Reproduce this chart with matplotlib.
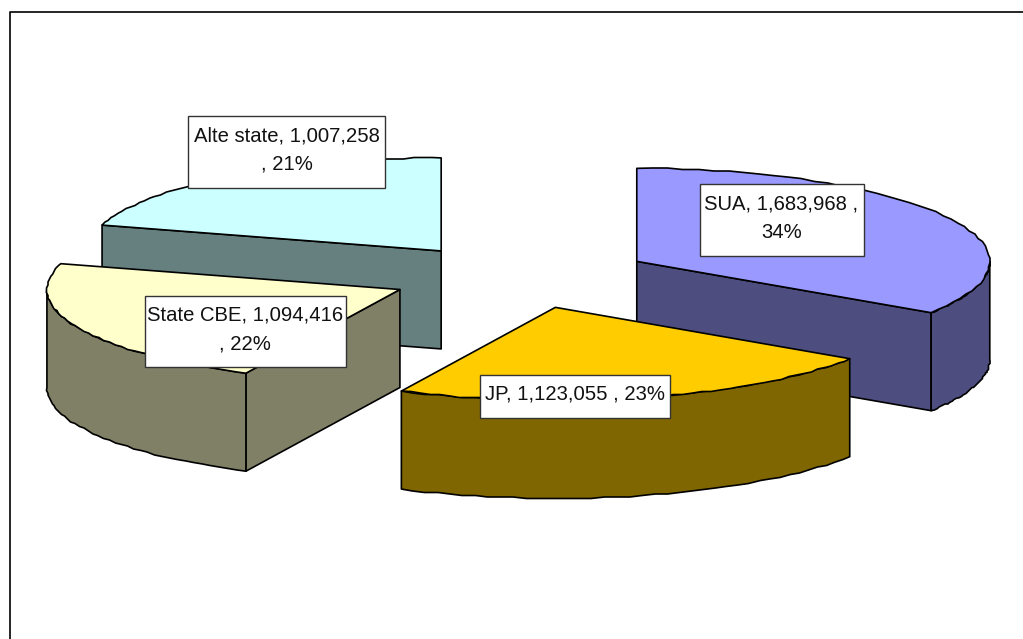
import numpy as np
import matplotlib
matplotlib.use("Agg")
import matplotlib.pyplot as plt
from matplotlib.patches import Polygon, Rectangle

labels = ["SUA", "JP", "State CBE", "Alte state"]
values = [1683968, 1123055, 1094416, 1007258]
percents = ["34%", "23%", "22%", "21%"]
top_colors = ["#9999FF", "#FFCC00", "#FFFFCC", "#CCFFFF"]
side_colors = ["#4D4D80", "#806600", "#808066", "#668080"]

label_texts = [
    "SUA, 1,683,968 ,\n34%",
    "JP, 1,123,055 , 23%",
    "State CBE, 1,094,416\n, 22%",
    "Alte state, 1,007,258\n, 21%",
]
# x0, y0, x1, y1 of the white label boxes, in pixels
label_boxes = [
    (699.5, 184, 863.5, 256),
    (480, 374.5, 670, 418),
    (144.5, 296, 345.5, 367),
    (188, 116, 385, 188),
]

CX, CY = 520.5, 276.5  # pie centre
RX, RY = 353, 93       # ellipse radii
EX, EY = 132, 32       # explosion
DEPTH = 98
LW = 1.2
STEP = 1.5             # rim is drawn in little stairs, like the old renderer

plt.rcParams["font.family"] = ["Liberation Sans", "DejaVu Sans"]

fig = plt.figure(figsize=(10.23, 6.39), dpi=100)
ax = fig.add_axes([0, 0, 1, 1])
ax.set_xlim(0, 1023)
ax.set_ylim(639, 0)
ax.axis("off")

# chart frame runs off the right and bottom of the image
ax.plot([9.5, 9.5, 1030], [650, 12, 12], color="black", lw=1.2)

total = sum(values)
edges = np.concatenate([[0], np.cumsum(values)]) / total * 2 * np.pi


def rim(t, ox, oy):
    return np.column_stack([ox + RX * np.sin(t), oy - RY * np.cos(t)])


def stairs(arc):
    rough = arc.copy()
    rough[1:-1] = np.round(arc[1:-1] / STEP) * STEP
    return rough


def draw_slice(i, z):
    t0, t1 = edges[i], edges[i + 1]
    mid = (t0 + t1) / 2
    ox = CX + EX * np.sin(mid)
    oy = CY - EY * np.cos(mid)
    apex = np.array([ox, oy])
    down = np.array([0, DEPTH])
    kw = dict(edgecolor="black", lw=LW, joinstyle="round", zorder=z)

    # cut faces, only the ones turned to the viewer
    for t, show in [(t0, np.sin(t0) < -1e-6), (t1, np.sin(t1) > 1e-6)]:
        if show:
            p = rim(np.array([t]), ox, oy)[0]
            ax.add_patch(Polygon([apex, p, p + down, apex + down],
                                 facecolor=side_colors[i], **kw))

    # outer wall, front half of the ellipse only
    a, b = max(t0, np.pi / 2), min(t1, 3 * np.pi / 2)
    if b > a:
        arc = stairs(rim(np.linspace(a, b, 40), ox, oy))
        ax.add_patch(Polygon(np.vstack([arc, (arc + down)[::-1]]),
                             facecolor=side_colors[i], **kw))

    # top
    arc = stairs(rim(np.linspace(t0, t1, 50), ox, oy))
    ax.add_patch(Polygon(np.vstack([apex, arc]), facecolor=top_colors[i], **kw))


# back to front
for z, i in enumerate([3, 2, 0, 1]):
    draw_slice(i, 2 + z)

for text, (x0, y0, x1, y1) in zip(label_texts, label_boxes):
    ax.add_patch(Rectangle((x0, y0), x1 - x0, y1 - y0, facecolor="white",
                           edgecolor="#333333", lw=1.0, zorder=10))
    ax.text((x0 + x1) / 2, (y0 + y1) / 2 - 2, text, ha="center", va="center",
            fontsize=14.6, linespacing=1.62, color="#111111", zorder=11)

fig.savefig("out.png", dpi=100)
